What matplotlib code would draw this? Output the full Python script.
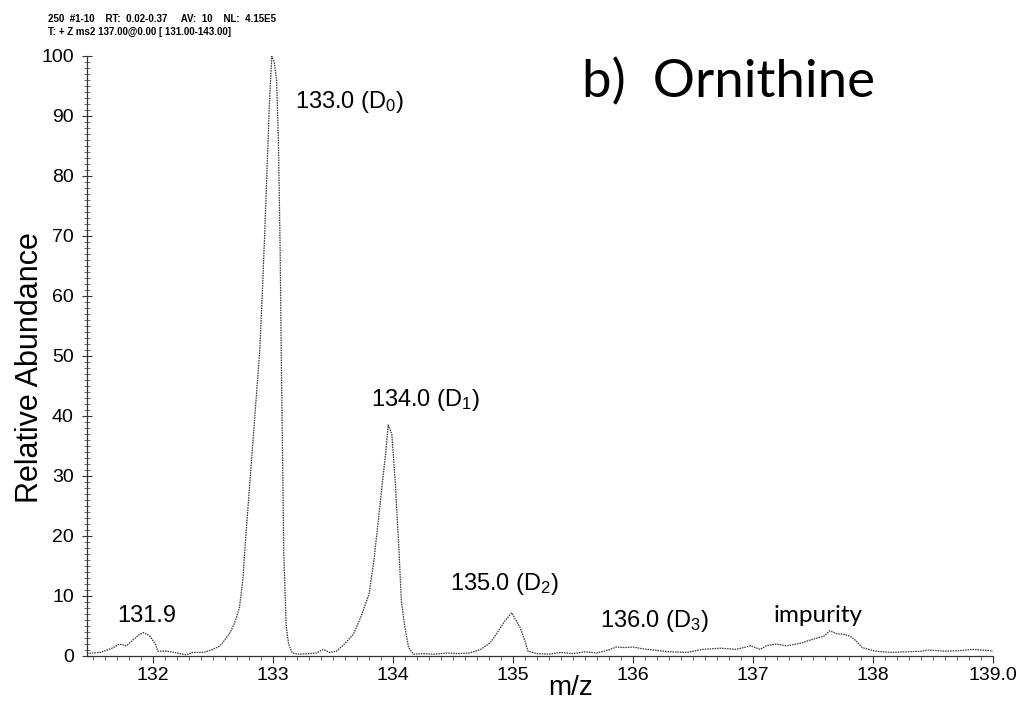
import numpy as np
import matplotlib.pyplot as plt
from matplotlib.ticker import MultipleLocator

plt.rcParams['font.family'] = ['Liberation Sans', 'DejaVu Sans']
plt.rcParams['mathtext.fontset'] = 'custom'
plt.rcParams['mathtext.rm'] = 'Liberation Sans'
plt.rcParams['mathtext.it'] = 'Liberation Sans'

# spectrum (m/z, relative abundance)
mz = [131.45, 131.50, 131.56, 131.62, 131.67, 131.72, 131.78, 131.84, 131.88, 131.92,
      131.97, 132.02, 132.04, 132.11, 132.18, 132.22, 132.28, 132.33, 132.42, 132.50,
      132.55, 132.58, 132.64, 132.68, 132.72, 132.75, 132.77, 132.80, 132.83, 132.86,
      132.89, 132.91, 132.93, 132.95, 132.97, 132.99, 133.01, 133.03, 133.045, 133.06,
      133.07, 133.08, 133.09, 133.11, 133.13, 133.16, 133.22, 133.30, 133.36, 133.42,
      133.47, 133.53, 133.59, 133.67, 133.73, 133.80, 133.84, 133.88, 133.91, 133.94,
      133.96, 133.99, 134.02, 134.05, 134.07, 134.10, 134.13, 134.17, 134.25, 134.35,
      134.45, 134.55, 134.64, 134.73, 134.81, 134.86, 134.93, 134.99, 135.06, 135.10,
      135.125, 135.20, 135.30, 135.40, 135.50, 135.60, 135.70, 135.81, 135.86, 135.93,
      136.00, 136.08, 136.17, 136.30, 136.45, 136.58, 136.73, 136.86, 136.98, 137.06,
      137.11, 137.19, 137.28, 137.39, 137.50, 137.59, 137.64, 137.70, 137.76, 137.81,
      137.86, 137.91, 138.02, 138.15, 138.29, 138.40, 138.47, 138.60, 138.72, 138.83,
      138.97, 139.00]
abundance = [0.4, 0.5, 0.6, 1.0, 1.4, 2.0, 1.7, 2.8, 3.5, 3.9,
             3.4, 2.0, 0.8, 0.8, 0.6, 0.4, 0.2, 0.6, 0.6, 1.1,
             1.6, 2.2, 3.8, 5.5, 8.0, 13, 19, 27, 35, 43,
             51, 60, 70, 81, 92, 100, 99, 96, 86, 67,
             48, 33, 17, 5, 2, 0.5, 0.3, 0.4, 0.5, 1.1,
             0.6, 0.8, 1.9, 3.6, 6.4, 10.3, 15.8, 23, 28.6, 34,
             38.5, 37, 28.6, 17.5, 9, 4.7, 1.4, 0.3, 0.4, 0.3,
             0.5, 0.4, 0.5, 1.1, 2.2, 3.6, 5.8, 7.2, 4.7, 2.5,
             0.8, 0.4, 0.3, 0.6, 0.4, 0.7, 0.5, 1.1, 1.5, 1.4,
             1.5, 1.2, 1.0, 0.7, 0.6, 1.1, 1.3, 1.1, 1.7, 1.1,
             1.7, 2.0, 1.7, 2.1, 2.8, 3.3, 4.2, 3.7, 3.6, 3.3,
             2.5, 1.4, 0.8, 0.6, 0.7, 0.8, 1.0, 0.8, 0.9, 1.1,
             0.9, 0.8]

# peak labels and where they sit
peak_labels = ['131.9', '133.0 (D$_0$)', '134.0 (D$_1$)', '135.0 (D$_2$)', '136.0 (D$_3$)']
label_x = [131.70, 133.18, 133.82, 134.475, 135.725]
label_y = [5.7, 91.3, 41.7, 11.0, 4.9]

fig = plt.figure(figsize=(10.31, 7.03), dpi=100)
ax = fig.add_axes([87/1031, 47/703, (993-87)/1031, 600/703])

ax.plot(mz, abundance, color='#333333', lw=0.9, linestyle=(0, (1.2, 0.8)))

ax.set_xlim(131.45, 139.0)
ax.set_ylim(0, 100)

for s in ['top', 'right']:
    ax.spines[s].set_visible(False)
for s in ['left', 'bottom']:
    ax.spines[s].set_linestyle((0, (1, 1)))
    ax.spines[s].set_linewidth(0.9)
    ax.spines[s].set_color('#333333')

ax.set_xticks([132, 133, 134, 135, 136, 137, 138, 139])
ax.set_xticklabels(['132', '133', '134', '135', '136', '137', '138', '139.0'])
ax.xaxis.set_minor_locator(MultipleLocator(0.1))
ax.yaxis.set_major_locator(MultipleLocator(10))
ax.yaxis.set_minor_locator(MultipleLocator(1))
ax.tick_params(axis='x', which='major', direction='out', length=5, width=0.8,
               labelsize=14, pad=3, color='#333333')
ax.tick_params(axis='x', which='minor', direction='out', length=3, width=0.6, color='#555555')
ax.tick_params(axis='y', which='major', direction='inout', length=7, width=0.8,
               labelsize=14, pad=6, color='#333333')
ax.tick_params(axis='y', which='minor', direction='inout', length=4, width=0.6, color='#555555')

ax.set_ylabel('Relative Abundance', fontsize=22)
ax.yaxis.set_label_coords(-0.046, 0.48)
fig.text(571/1031, 1 - 695/703, 'm/z', fontsize=20, ha='center', va='baseline')

for txt, x, y in zip(peak_labels, label_x, label_y):
    ax.text(x, y, txt, fontsize=17, ha='left', va='baseline')
ax.text(137.175, 5.7, 'impurity', fontsize=17.5, family=['Lato', 'DejaVu Sans'],
        ha='left', va='baseline')

fig.text(582/1031, 1 - 97/703, 'b)  Ornithine', fontsize=38, family=['Lato', 'DejaVu Sans'],
         ha='left', va='baseline')

fig.text(48/1031, 1 - 22/703, '250  #1-10    RT:  0.02-0.37     AV:  10    NL:  4.15E5',
         fontsize=7, weight='bold', ha='left', va='baseline')
fig.text(48/1031, 1 - 35/703, 'T: + Z ms2 137.00@0.00 [ 131.00-143.00]',
         fontsize=7, weight='bold', ha='left', va='baseline')

plt.savefig('out.png', dpi=100)
